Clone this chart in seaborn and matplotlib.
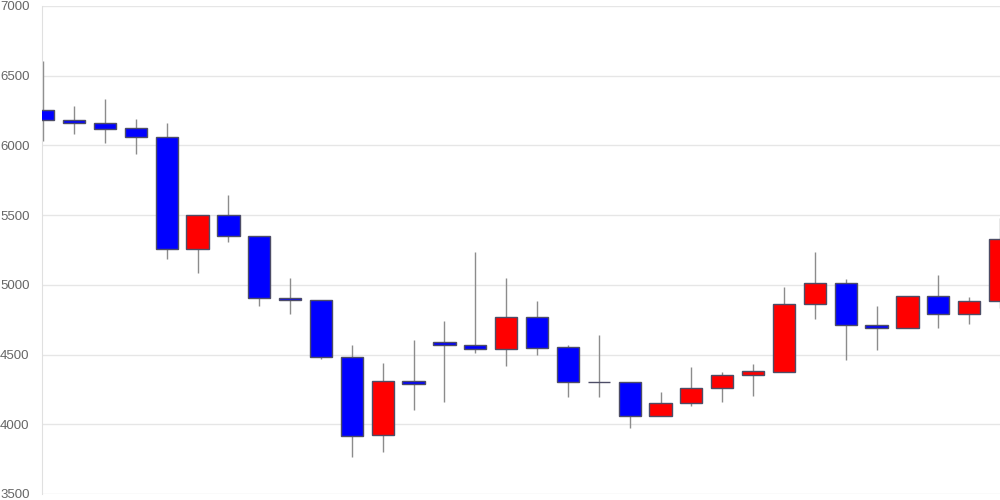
import numpy as np
import matplotlib
matplotlib.use("Agg")
import matplotlib.pyplot as plt
import seaborn as sns

# OHLC values
opens = [6254, 6180, 6160, 6125, 6063, 5255, 5500, 5353, 4905, 4890,
         4481, 3920, 4313, 4591, 4572, 4541, 4772, 4553, 4302, 4302,
         4063, 4151, 4263, 4352, 4378, 4861, 5012, 4711, 4691, 4921,
         4792, 4883]
closes = [6179, 6160, 6120, 6060, 5258, 5500, 5350, 4904, 4890, 4481,
          3919, 4311, 4292, 4572, 4541, 4772, 4550, 4302, 4300, 4063,
          4151, 4263, 4352, 4381, 4861, 5012, 4711, 4691, 4921, 4792,
          4883, 5332]
highs = [6606, 6283, 6333, 6190, 6161, 5500, 5645, 5353, 5052, 4890,
         4569, 4440, 4603, 4741, 5234, 5050, 4883, 4569, 4641, 4302,
         4230, 4412, 4374, 4433, 4983, 5234, 5043, 4849, 4921, 5069,
         4911, 5478]
lows = [6032, 6082, 6020, 5939, 5186, 5085, 5308, 4851, 4792, 4470,
        3764, 3802, 4103, 4163, 4510, 4421, 4500, 4195, 4195, 3972,
        4063, 4134, 4163, 4204, 4378, 4754, 4462, 4533, 4691, 4693,
        4722, 4833]
y_ticks = [3500, 4000, 4500, 5000, 5500, 6000, 6500, 7000]

sns.set_style("white")
plt.rcParams["font.family"] = ["Liberation Sans", "DejaVu Sans"]

fig = plt.figure(figsize=(10, 5), dpi=100)
ax = fig.add_axes([0.042, 0.012, 0.958, 0.976])

x = np.arange(len(opens))
o = np.array(opens)
c = np.array(closes)
colors = np.where(c >= o, "#ff0000", "#0000ff")

# wicks, then bodies on top
ax.vlines(x, lows, highs, color="#8c8c8c", linewidth=1, zorder=2)
bottom = np.minimum(o, c)
height = np.maximum(np.abs(c - o), 2)
ax.bar(x, height, bottom=bottom, width=0.72, color=colors,
       edgecolor="#4d4d66", linewidth=1, zorder=3)

ax.set_ylim(3500, 7000)
ax.set_xlim(-0.04, 31.0)
ax.set_yticks(y_ticks)
ax.set_yticklabels([str(t) for t in y_ticks])
ax.set_xticks([])
ax.grid(axis="y", color="#e6e6e6", linewidth=1)
ax.set_axisbelow(True)
for s in ["top", "right", "bottom"]:
    ax.spines[s].set_visible(False)
ax.spines["left"].set_color("#e0e0e0")
ax.tick_params(axis="y", length=9, width=1, color="#e0e0e0",
               labelcolor="#666666", labelsize=9.5, pad=0)

fig.savefig("out.png", dpi=100)
